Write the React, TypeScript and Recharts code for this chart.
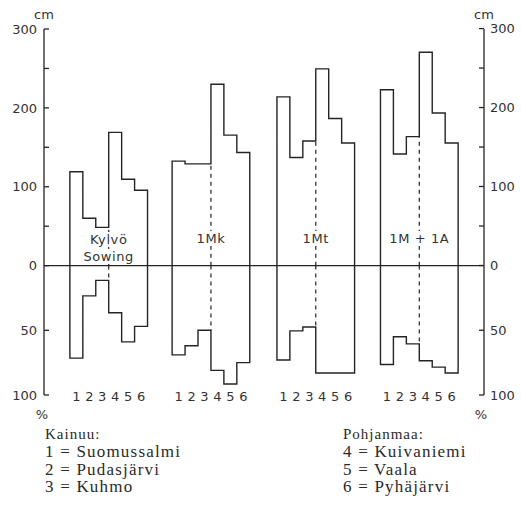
import React from 'react';
import { ComposedChart, Line, XAxis, YAxis, ReferenceLine } from 'recharts';

const groupLabels: string[][] = [['Kylvö', 'Sowing'], ['1Mk'], ['1Mt'], ['1M + 1A']];
const groupStart = [2, 9.9, 18, 26];
const siteNumbers = ['1', '2', '3', '4', '5', '6'];

// Height (cm), sites 1..6 per group
const heightSowing = [119, 60, 48.5, 169, 109.5, 95.5];
const height1Mk = [132.5, 129, 129, 230, 165.5, 143.5];
const height1Mt = [214, 137, 158, 249.5, 186.5, 155.5];
const height1M1A = [223, 141.5, 163.5, 270.5, 193.5, 155.5];

// Survival (%), sites 1..6 per group
const pctSowing = [71.5, 23.5, 11.5, 36.5, 59, 47];
const pct1Mk = [69, 62, 50, 81, 91.5, 75];
const pct1Mt = [73, 50.5, 47.5, 83, 83, 83];
const pct1M1A = [76.5, 55, 60.5, 73.5, 78.5, 83];

const heights = [heightSowing, height1Mk, height1Mt, height1M1A];
const pcts = [pctSowing, pct1Mk, pct1Mt, pct1M1A];

const cmTickValues = [0, 50, 100, 150, 200, 250, 300];
const pctTickValues = [50, 100];
const cmDomain: [number, number] = [-164, 300];
const pctDomain: [number, number] = [-100, 182.6];

const kainuuTitle = 'Kainuu:';
const kainuu = ['1 = Suomussalmi', '2 = Pudasjärvi', '3 = Kuhmo'];
const pohjanmaaTitle = 'Pohjanmaa:';
const pohjanmaa = ['4 = Kuivaniemi', '5 = Vaala', '6 = Pyhäjärvi'];

const INK = '#242424';
const TXT = '#333';

// both axes share the same zero and bottom; convert between their units
const cmPerPct = -cmDomain[0] / -pctDomain[0];
const cmAxisTicks = [...pctTickValues.map((p) => -p * cmPerPct), ...cmTickValues];
const pctAxisTicks = [...pctTickValues.map((p) => -p), ...cmTickValues.map((c) => c / cmPerPct)];
const cmLabel = (v: number) => {
  if (v < -0.01) return String(Math.round(-v / cmPerPct));
  const c = Math.round(v);
  return c % 100 === 0 ? String(c) : '';
};
const pctLabel = (v: number) => cmLabel(v * cmPerPct);

function profile(start: number, values: number[], sign: number) {
  const pts = [{ x: start, y: 0 }];
  values.forEach((v, i) => pts.push({ x: start + i, y: sign * v }));
  pts.push({ x: start + values.length, y: sign * values[values.length - 1] });
  pts.push({ x: start + values.length, y: 0 });
  return pts;
}

const xTicks = groupStart.flatMap((s) => siteNumbers.map((_, i) => s + i + 0.5));

const XTick = (props: any) => {
  const { x, y, index } = props;
  return (
    <text x={x} y={y + 1} dy="0.36em" textAnchor="middle" fontFamily="DejaVu Sans" fontSize={13} fill={TXT}>
      {siteNumbers[index % 6]}
    </text>
  );
};

const LeftTick = (props: any) => {
  const { x, y, payload } = props;
  const label = cmLabel(payload.value);
  return (
    <g>
      <line x1={x} x2={x + 5} y1={y} y2={y} stroke={INK} strokeWidth={1.3} />
      {label && (
        <text x={x - 7} y={y} dy="0.36em" textAnchor="end" fontFamily="DejaVu Sans" fontSize={13} fill={TXT}>
          {label}
        </text>
      )}
    </g>
  );
};

const RightTick = (props: any) => {
  const { x, y, payload } = props;
  const label = pctLabel(payload.value);
  return (
    <g>
      <line x1={x - 5} x2={x} y1={y} y2={y} stroke={INK} strokeWidth={1.3} />
      {label && (
        <text x={x + 6} y={y} dy="0.36em" textAnchor="start" fontFamily="DejaVu Sans" fontSize={13} fill={TXT}>
          {label}
        </text>
      )}
    </g>
  );
};

const sans: React.CSSProperties = { position: 'absolute', fontFamily: 'DejaVu Sans', fontSize: 13, color: TXT, lineHeight: '15px', whiteSpace: 'nowrap' };
const serif: React.CSSProperties = { position: 'absolute', fontFamily: '"Liberation Serif", "Times New Roman", serif', color: '#2a2a2a', whiteSpace: 'nowrap', lineHeight: '17px' };

export default function App() {
  const labelCenters = groupStart.map((s) => s + 3);
  return (
    <div style={{ position: 'absolute', left: 0, top: 0, width: 521, height: 508, background: '#fff', overflow: 'hidden' }}>
      <ComposedChart width={521} height={508} margin={{ top: 29, right: 0, bottom: 93, left: 0 }}>
        <XAxis type="number" dataKey="x" domain={[0, 34]} ticks={xTicks} height={20} axisLine={false} tickLine={false} tickSize={0} tickMargin={0} tick={<XTick />} interval={0} allowDecimals />
        <YAxis yAxisId="cm" orientation="left" width={44} type="number" domain={cmDomain} ticks={cmAxisTicks} interval={0} tickSize={0} tickMargin={0} axisLine={false} tickLine={false} tick={<LeftTick />} />
        <YAxis yAxisId="pct" orientation="right" width={37} type="number" domain={pctDomain} ticks={pctAxisTicks} interval={0} tickSize={0} tickMargin={0} axisLine={false} tickLine={false} tick={<RightTick />} />
        <ReferenceLine yAxisId="cm" x={0} stroke={INK} strokeWidth={1.3} ifOverflow="visible" />
        <ReferenceLine yAxisId="cm" x={34} stroke={INK} strokeWidth={1.3} ifOverflow="visible" />
        <ReferenceLine yAxisId="cm" y={0} stroke={INK} strokeWidth={1.3} />
        {groupStart.map((s, g) => (
          <ReferenceLine key={'du' + g} yAxisId="cm" segment={[{ x: s + 3, y: 0 }, { x: s + 3, y: Math.min(heights[g][2], heights[g][3]) }]} stroke={INK} strokeWidth={1.2} strokeDasharray="4 4" ifOverflow="visible" />
        ))}
        {groupStart.map((s, g) => (
          <ReferenceLine key={'dl' + g} yAxisId="pct" segment={[{ x: s + 3, y: 0 }, { x: s + 3, y: -Math.min(pcts[g][2], pcts[g][3]) }]} stroke={INK} strokeWidth={1.2} strokeDasharray="4 4" ifOverflow="visible" />
        ))}
        {groupStart.map((s, g) => (
          <Line key={'u' + g} yAxisId="cm" data={profile(s, heights[g], 1)} dataKey="y" type="stepAfter" stroke={INK} strokeWidth={1.4} dot={false} activeDot={false} isAnimationActive={false} />
        ))}
        {groupStart.map((s, g) => (
          <Line key={'l' + g} yAxisId="pct" data={profile(s, pcts[g], -1)} dataKey="y" type="stepAfter" stroke={INK} strokeWidth={1.4} dot={false} activeDot={false} isAnimationActive={false} />
        ))}
      </ComposedChart>

      {/* group labels */}
      {groupLabels.map((lines, g) => {
        const cx = 44 + (labelCenters[g] / 34) * 440;
        return lines.map((t, k) => {
          const cy = lines.length === 2 ? 239 + k * 17 : 238;
          return (
            <div key={g + '-' + k} style={{ ...sans, left: cx, top: cy - 7.5, transform: 'translateX(-50%)', background: '#fff', letterSpacing: 0.6, padding: '0 1px' }}>
              {t}
            </div>
          );
        });
      })}

      {/* unit labels */}
      <div style={{ ...sans, left: 44, top: 7, transform: 'translateX(-50%)' }}>cm</div>
      <div style={{ ...sans, left: 484, top: 7, transform: 'translateX(-50%)' }}>cm</div>
      <div style={{ ...sans, left: 42, top: 407, transform: 'translateX(-50%)' }}>%</div>
      <div style={{ ...sans, left: 481, top: 407, transform: 'translateX(-50%)' }}>%</div>

      {/* legend */}
      <div style={{ ...serif, left: 45, top: 425.5, fontSize: 15, letterSpacing: 1 }}>{kainuuTitle}</div>
      {kainuu.map((t, i) => (
        <div key={t} style={{ ...serif, left: 45, top: 443 + i * 17.5, fontSize: 17, letterSpacing: 1.2 }}>{t}</div>
      ))}
      <div style={{ ...serif, left: 343, top: 425.5, fontSize: 15, letterSpacing: 1 }}>{pohjanmaaTitle}</div>
      {pohjanmaa.map((t, i) => (
        <div key={t} style={{ ...serif, left: 343, top: 443 + i * 17.5, fontSize: 17, letterSpacing: 1.2 }}>{t}</div>
      ))}
    </div>
  );
}
